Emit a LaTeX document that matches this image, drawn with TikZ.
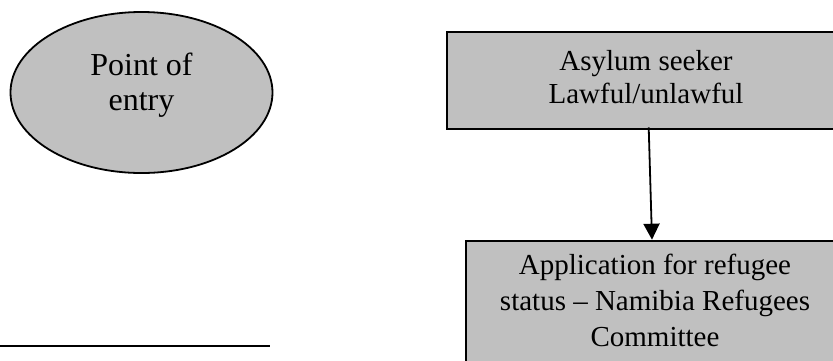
\documentclass[tikz,border=0pt]{standalone}
\usepackage{fontspec}
\setmainfont{Liberation Serif}
\usetikzlibrary{shapes.geometric,arrows.meta}
\definecolor{boxgray}{HTML}{C0C0C0}
\tikzset{
  shapebox/.style={draw=black, line width=2.6pt, fill=boxgray, inner sep=0pt},
  oval/.style={ellipse, draw=black, line width=1.8pt, fill=boxgray, inner sep=0pt},
  lbl/.style={align=center, inner sep=0pt, anchor=base},
  conn/.style={line width=1.8pt, -{Triangle[length=16pt,width=16pt]}}
}
\begin{document}
\begin{tikzpicture}[x=1pt,y=-1pt]
\useasboundingbox (0,0) rectangle (833,360);
\clip (0,0) rectangle (833,360);
% Point of entry
\node[oval, minimum width=262, minimum height=161] (entry) at (141.5,92.5) {};
\node[lbl, font=\fontsize{32}{35}\selectfont] (entrytext) at (141.5,110) {Point of\\entry};
% Asylum seeker box
\node[shapebox, minimum width=398, minimum height=97] (seeker) at (646,80.5) {};
\node[lbl, font=\fontsize{29}{33}\selectfont] (seekertext) at (646,103) {Asylum seeker\\Lawful/unlawful};
% Application box
\node[shapebox, minimum width=378, minimum height=150] (appl) at (655,316) {};
\node[lbl, font=\fontsize{29}{36}\selectfont] (appltext) at (655,346) {Application for refugee\\status -- Namibia Refugees\\Committee};
% connector
\draw[conn] ([xshift=2.7pt,yshift=3pt]seeker.south) -- ([xshift=-3pt]appl.north);
% footnote rule
\coordinate (ruleA) at (-2,346);
\coordinate (ruleB) at (270,346);
\draw[line width=2.2pt] (ruleA) -- (ruleB);
\end{tikzpicture}
\end{document}
